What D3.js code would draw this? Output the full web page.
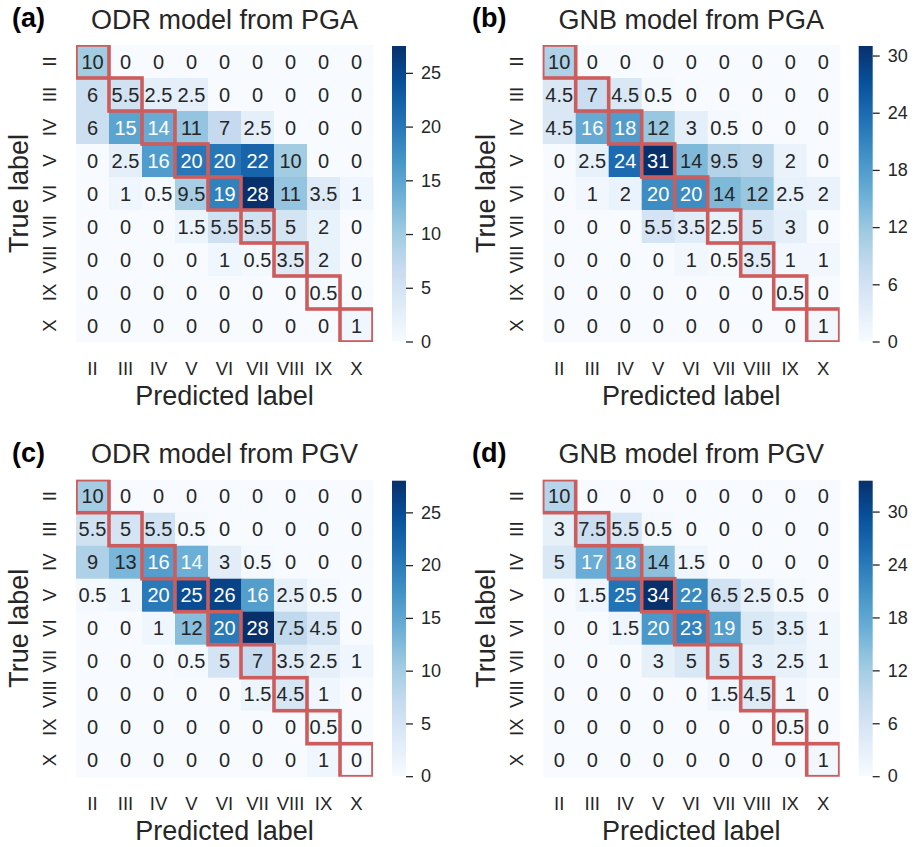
<!DOCTYPE html>
<html>
<head>
<meta charset="utf-8">
<script src="https://cdn.jsdelivr.net/npm/d3@7/dist/d3.min.js"></script>
<style>
  html, body { margin: 0; padding: 0; background: #fff; }
  svg { display: block; font-family: "Liberation Sans", Arial, sans-serif; }
</style>
</head>
<body>
<svg id="fig" width="921" height="847"></svg>
<script>
// Intensity classes (true and predicted)
const classes = ["II", "III", "IV", "V", "VI", "VII", "VIII", "IX", "X"];

// Confusion matrices: rows = true label, columns = predicted label
const odrPGA = [
  [10, 0, 0, 0, 0, 0, 0, 0, 0],
  [6, 5.5, 2.5, 2.5, 0, 0, 0, 0, 0],
  [6, 15, 14, 11, 7, 2.5, 0, 0, 0],
  [0, 2.5, 16, 20, 20, 22, 10, 0, 0],
  [0, 1, 0.5, 9.5, 19, 28, 11, 3.5, 1],
  [0, 0, 0, 1.5, 5.5, 5.5, 5, 2, 0],
  [0, 0, 0, 0, 1, 0.5, 3.5, 2, 0],
  [0, 0, 0, 0, 0, 0, 0, 0.5, 0],
  [0, 0, 0, 0, 0, 0, 0, 0, 1]
];
const gnbPGA = [
  [10, 0, 0, 0, 0, 0, 0, 0, 0],
  [4.5, 7, 4.5, 0.5, 0, 0, 0, 0, 0],
  [4.5, 16, 18, 12, 3, 0.5, 0, 0, 0],
  [0, 2.5, 24, 31, 14, 9.5, 9, 2, 0],
  [0, 1, 2, 20, 20, 14, 12, 2.5, 2],
  [0, 0, 0, 5.5, 3.5, 2.5, 5, 3, 0],
  [0, 0, 0, 0, 1, 0.5, 3.5, 1, 1],
  [0, 0, 0, 0, 0, 0, 0, 0.5, 0],
  [0, 0, 0, 0, 0, 0, 0, 0, 1]
];
const odrPGV = [
  [10, 0, 0, 0, 0, 0, 0, 0, 0],
  [5.5, 5, 5.5, 0.5, 0, 0, 0, 0, 0],
  [9, 13, 16, 14, 3, 0.5, 0, 0, 0],
  [0.5, 1, 20, 25, 26, 16, 2.5, 0.5, 0],
  [0, 0, 1, 12, 20, 28, 7.5, 4.5, 0],
  [0, 0, 0, 0.5, 5, 7, 3.5, 2.5, 1],
  [0, 0, 0, 0, 0, 1.5, 4.5, 1, 0],
  [0, 0, 0, 0, 0, 0, 0, 0.5, 0],
  [0, 0, 0, 0, 0, 0, 0, 1, 0]
];
const gnbPGV = [
  [10, 0, 0, 0, 0, 0, 0, 0, 0],
  [3, 7.5, 5.5, 0.5, 0, 0, 0, 0, 0],
  [5, 17, 18, 14, 1.5, 0, 0, 0, 0],
  [0, 1.5, 25, 34, 22, 6.5, 2.5, 0.5, 0],
  [0, 0, 1.5, 20, 23, 19, 5, 3.5, 1],
  [0, 0, 0, 3, 5, 5, 3, 2.5, 1],
  [0, 0, 0, 0, 0, 1.5, 4.5, 1, 0],
  [0, 0, 0, 0, 0, 0, 0, 0.5, 0],
  [0, 0, 0, 0, 0, 0, 0, 0, 1]
];

// Panel titles, letters and colour-bar settings
const panelTitles = ["ODR model from PGA", "GNB model from PGA", "ODR model from PGV", "GNB model from PGV"];
const panelLetters = ["(a)", "(b)", "(c)", "(d)"];
const colorMax = [27.5, 31, 28, 33.5];
const colorTicks = [
  [0, 5, 10, 15, 20, 25],
  [0, 6, 12, 18, 24, 30],
  [0, 5, 10, 15, 20, 25],
  [0, 6, 12, 18, 24, 30]
];
const matrices = [odrPGA, gnbPGA, odrPGV, gnbPGV];

// Matplotlib "Blues" anchor colours
const bluesStops = ["#f7fbff", "#deebf7", "#c6dbef", "#9ecae1", "#6baed6", "#4292c6", "#2171b5", "#08519c", "#08306b"];

// Layout
const cell = 33;
const side = cell * classes.length;
const colStart = [0, 460];
const heatLeft = [76, 542.7];
const heatTop = [45, 479.7];
const ink = "#262626";
const boxColor = "#cd5c5c";
const boxWidth = 3.6;

const svg = d3.select("#fig");
const defs = svg.append("defs");

function luminance(c) {
  const rgb = d3.rgb(c);
  const lin = v => { v /= 255; return v <= 0.03928 ? v / 12.92 : Math.pow((v + 0.055) / 1.055, 2.4); };
  return 0.2126 * lin(rgb.r) + 0.7152 * lin(rgb.g) + 0.0722 * lin(rgb.b);
}

matrices.forEach((m, p) => {
  const col = p % 2, row = Math.floor(p / 2);
  const x0 = heatLeft[col], y0 = heatTop[row];
  const g = svg.append("g").attr("transform", `translate(${x0},${y0})`);

  const x = d3.scaleBand().domain(classes).range([0, side]);
  const y = d3.scaleBand().domain(classes).range([0, side]);
  const vmax = colorMax[p];
  const color = d3.scaleLinear()
    .domain(d3.range(bluesStops.length).map(i => i * vmax / (bluesStops.length - 1)))
    .range(bluesStops)
    .clamp(true);

  const cells = [];
  m.forEach((r, i) => r.forEach((v, j) => cells.push({ t: classes[i], p: classes[j], v })));

  g.selectAll("rect.cell").data(cells).join("rect")
    .attr("class", "cell")
    .attr("x", d => x(d.p))
    .attr("y", d => y(d.t))
    .attr("width", x.bandwidth() + 0.5)
    .attr("height", y.bandwidth() + 0.5)
    .attr("fill", d => color(d.v));

  g.selectAll("text.ann").data(cells).join("text")
    .attr("class", "ann")
    .attr("x", d => x(d.p) + x.bandwidth() / 2)
    .attr("y", d => y(d.t) + y.bandwidth() / 2)
    .attr("dy", "0.36em")
    .attr("text-anchor", "middle")
    .attr("font-size", 20)
    .attr("fill", d => luminance(color(d.v)) > 0.408 ? ink : "#ffffff")
    .text(d => String(d.v));

  // Diagonal (correct class) outlines on the cell borders, clipped to the heatmap
  const clipId = "clip" + p;
  defs.append("clipPath").attr("id", clipId)
    .append("rect").attr("width", side).attr("height", side);
  g.append("g").attr("clip-path", `url(#${clipId})`)
    .selectAll("rect").data(classes).join("rect")
    .attr("x", d => x(d))
    .attr("y", d => y(d))
    .attr("width", x.bandwidth())
    .attr("height", y.bandwidth())
    .attr("fill", "none")
    .attr("stroke", boxColor)
    .attr("stroke-width", boxWidth);

  // Predicted-label axis
  const xa = g.append("g").attr("transform", `translate(0,${side})`)
    .call(d3.axisBottom(x).tickSize(0));
  xa.select(".domain").remove();
  xa.selectAll("text")
    .attr("y", 33).attr("dy", 0)
    .attr("font-size", 18.5).attr("font-family", null)
    .attr("fill", ink);

  // True-label axis (labels rotated)
  const ya = g.append("g").call(d3.axisLeft(y).tickSize(0));
  ya.select(".domain").remove();
  ya.selectAll("text")
    .attr("x", 0).attr("y", 0).attr("dy", 0)
    .attr("text-anchor", "middle")
    .attr("transform", "translate(-20,0) rotate(-90)")
    .attr("font-size", 18.5).attr("font-family", null)
    .attr("fill", ink);

  // Axis titles
  g.append("text")
    .attr("x", side / 2).attr("y", side + 63)
    .attr("text-anchor", "middle")
    .attr("font-size", 27).attr("fill", ink)
    .text("Predicted label");
  g.append("text")
    .attr("transform", `translate(-48,${side / 2}) rotate(-90)`)
    .attr("text-anchor", "middle")
    .attr("font-size", 27).attr("fill", ink)
    .text("True label");

  // Panel title and letter
  g.append("text")
    .attr("x", side / 2).attr("y", -16.5)
    .attr("text-anchor", "middle")
    .attr("font-size", 27).attr("fill", ink)
    .text(panelTitles[p]);
  svg.append("text")
    .attr("x", colStart[col] + 12).attr("y", y0 - 18)
    .attr("font-size", 27).attr("font-weight", "bold").attr("fill", "#000")
    .text(panelLetters[p]);

  // Colour bar
  const cbX = side + 19, cbW = 14;
  const gradId = "grad" + p;
  const grad = defs.append("linearGradient").attr("id", gradId)
    .attr("x1", 0).attr("y1", 1).attr("x2", 0).attr("y2", 0);
  bluesStops.forEach((c, i) => grad.append("stop")
    .attr("offset", i / (bluesStops.length - 1)).attr("stop-color", c));
  const cbScale = d3.scaleLinear().domain([0, vmax]).range([side - 0.5, 1]);
  g.append("rect")
    .attr("x", cbX).attr("y", cbScale(vmax))
    .attr("width", cbW).attr("height", cbScale(0) - cbScale(vmax))
    .attr("fill", `url(#${gradId})`);
  const ca = g.append("g").attr("transform", `translate(${cbX + cbW},0)`)
    .call(d3.axisRight(cbScale).tickValues(colorTicks[p]).tickSize(7).tickPadding(8).tickFormat(d3.format("d")));
  ca.select(".domain").remove();
  ca.selectAll("line").attr("stroke", ink).attr("stroke-width", 1.3);
  ca.selectAll("text").attr("font-size", 18).attr("font-family", null).attr("fill", ink);
});
</script>
</body>
</html>
